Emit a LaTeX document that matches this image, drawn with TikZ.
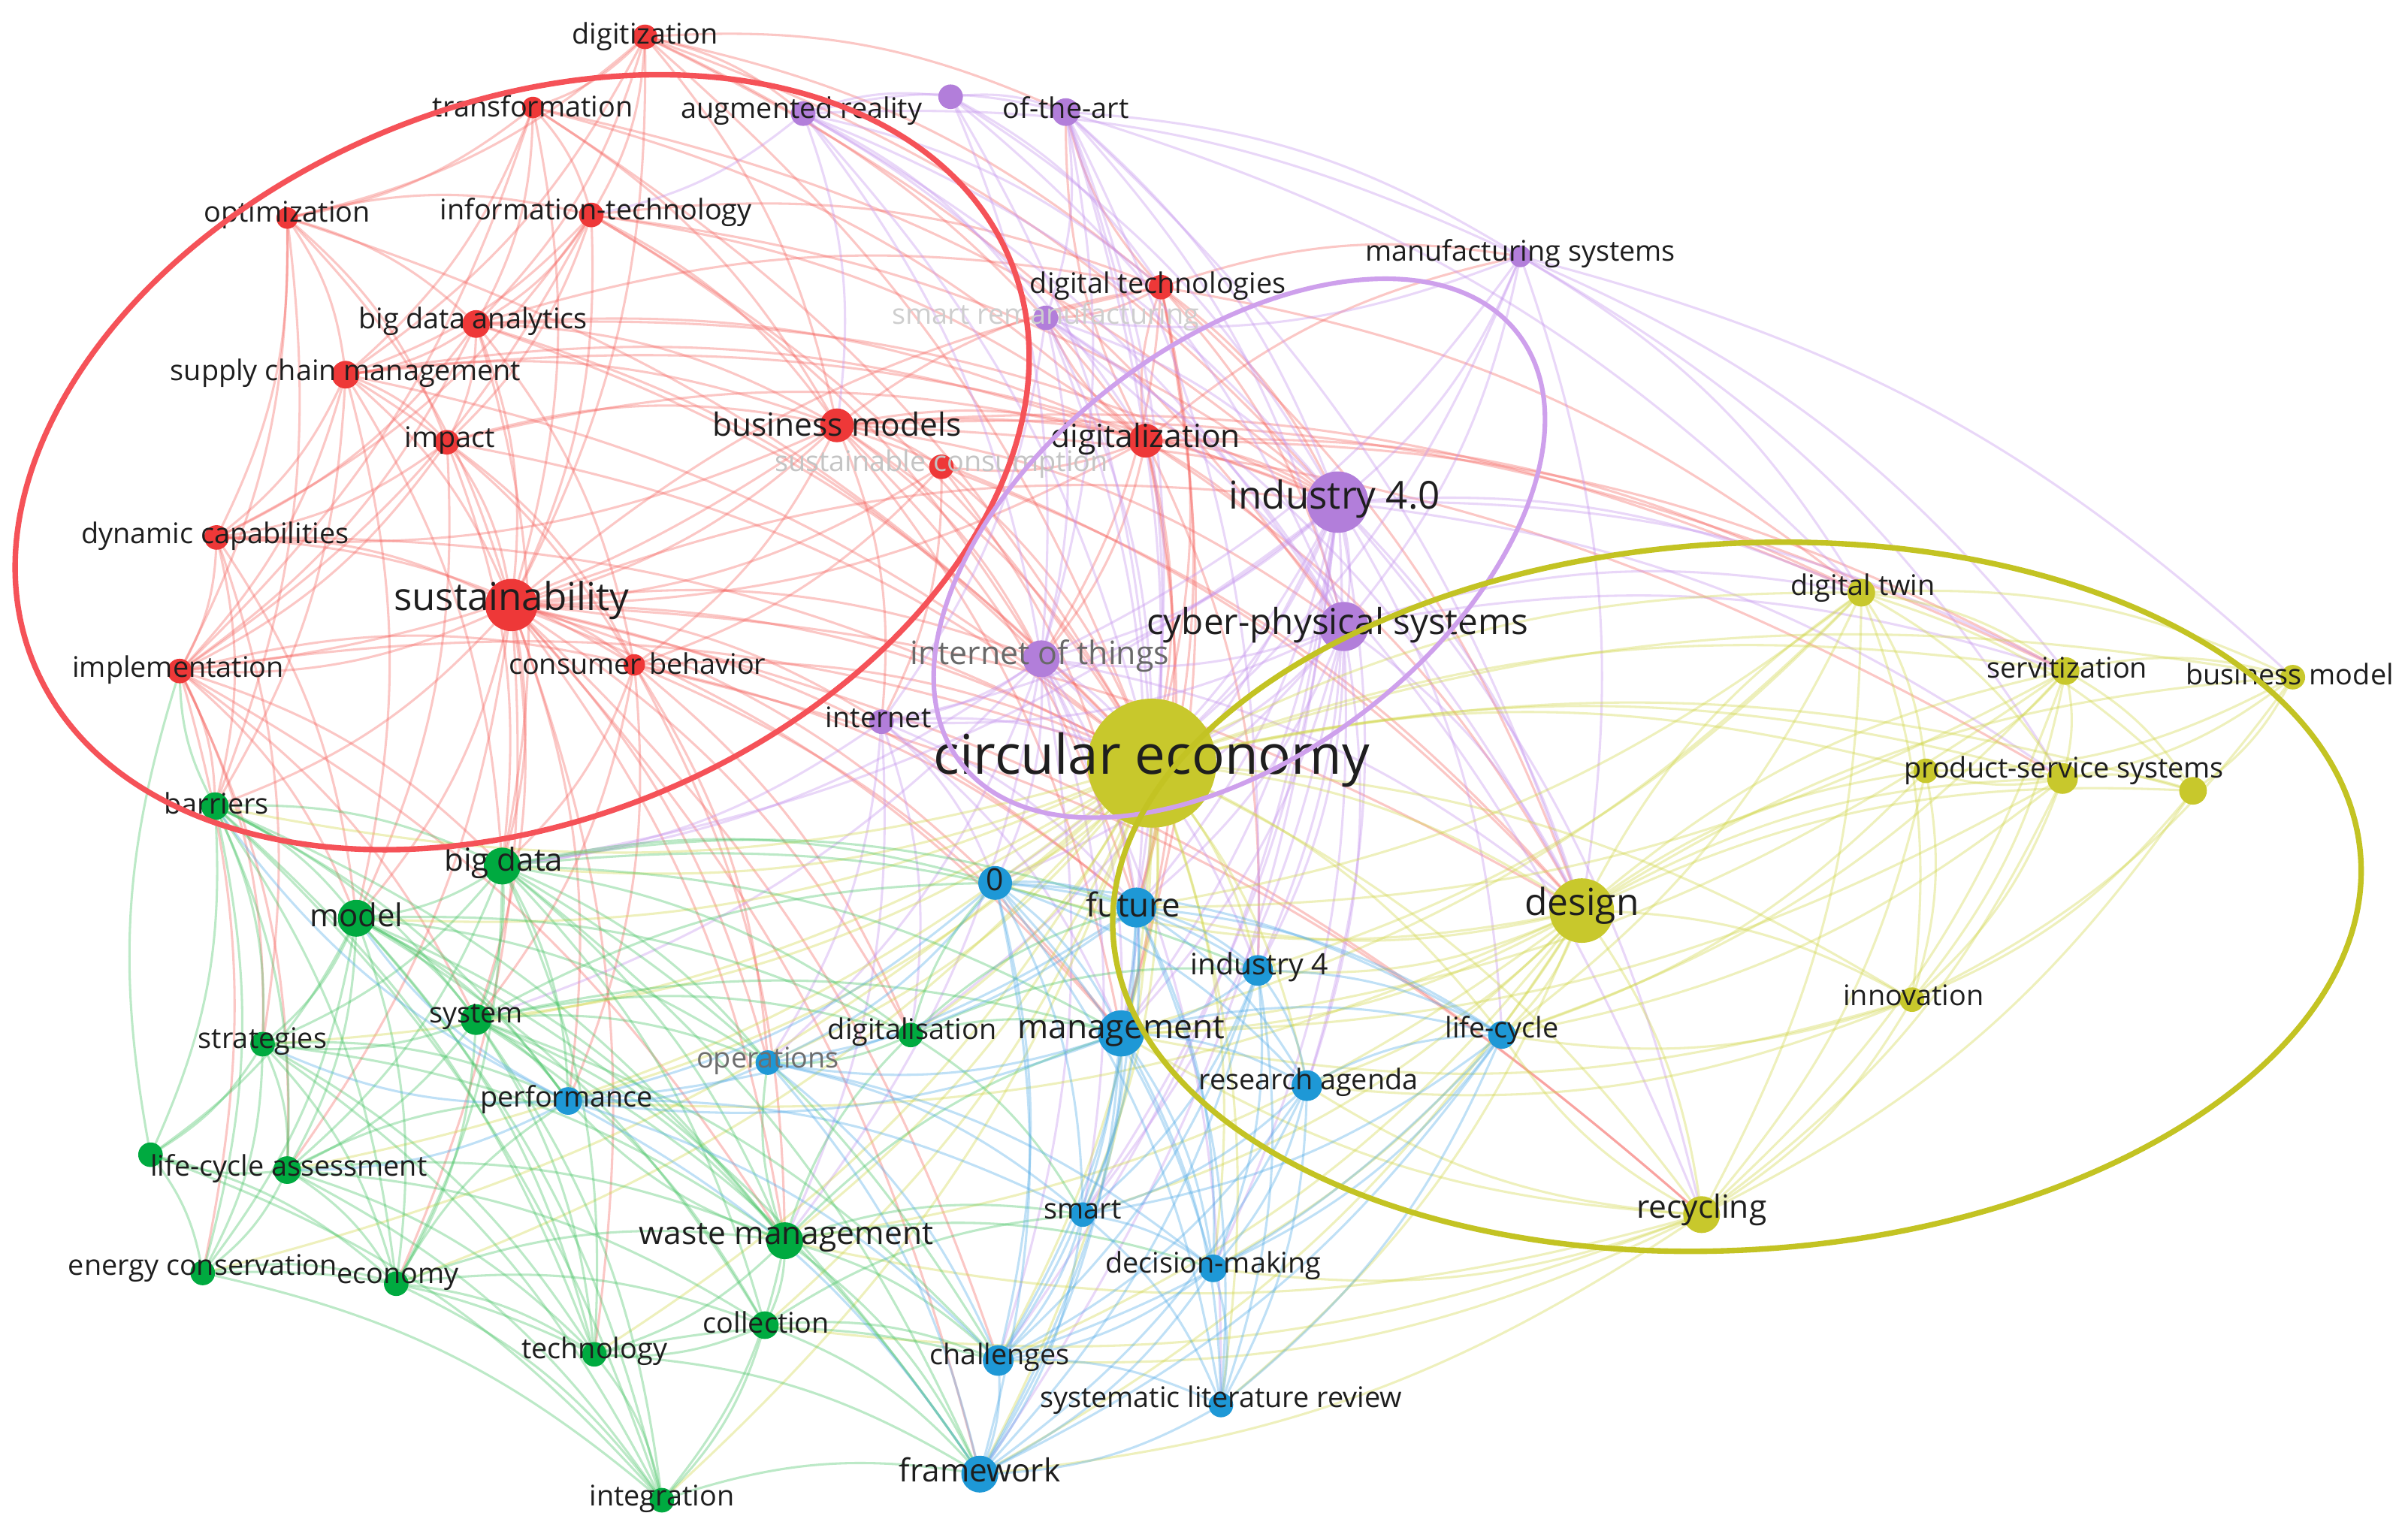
\documentclass[tikz,border=0pt]{standalone}
\usepackage{fontspec}
\setmainfont{Open Sans}
\pgfdeclarelayer{bg}
\pgfdeclarelayer{edges}
\pgfdeclarelayer{top}
\pgfsetlayers{bg,edges,main,top}
\definecolor{cR}{RGB}{238,56,56}
\definecolor{cG}{RGB}{0,170,64}
\definecolor{cB}{RGB}{30,152,214}
\definecolor{cY}{RGB}{200,200,44}
\definecolor{cP}{RGB}{178,126,218}
\definecolor{eR}{RGB}{246,100,96}
\definecolor{eG}{RGB}{70,196,100}
\definecolor{eB}{RGB}{80,170,232}
\definecolor{eY}{RGB}{208,214,70}
\definecolor{eP}{RGB}{196,146,238}
\definecolor{oR}{RGB}{245,82,88}
\definecolor{oP}{RGB}{206,160,236}
\definecolor{oY}{RGB}{195,195,35}
\definecolor{cT}{RGB}{30,30,30}
\newcommand\lfs[1]{\fontsize{#1}{#1}\selectfont}
\begin{document}
\begin{tikzpicture}[x=1pt,y=-1pt,
  dR/.style={circle,inner sep=0pt,fill=cR,minimum size=#1},
  dG/.style={circle,inner sep=0pt,fill=cG,minimum size=#1},
  dB/.style={circle,inner sep=0pt,fill=cB,minimum size=#1},
  dY/.style={circle,inner sep=0pt,fill=cY,minimum size=#1},
  dP/.style={circle,inner sep=0pt,fill=cP,minimum size=#1},
  lb/.style={inner sep=0pt,text=cT,font=\lfs{#1}},
  lb/.default=18.5,
  edge/.style={line width=1.5pt,draw opacity=0.36},
  edgeR/.style={edge,draw=eR},
  edgeG/.style={edge,draw=eG},
  edgeB/.style={edge,draw=eB},
  edgeY/.style={edge,draw=eY},
  edgeP/.style={edge,draw=eP},
  hull/.style={line width=3.6pt}
]
\begin{pgfonlayer}{bg}
\fill[white] (0,0) rectangle (1568,997);
\end{pgfonlayer}
\useasboundingbox (0,0) rectangle (1568,997);

% ---------- red cluster
\node[dR=16pt] (dgz) at (420,24) {};
\node[dR=14pt] (trf) at (347,70) {};
\node[dR=14pt] (opt) at (187,142) {};
\node[dR=16pt] (itc) at (385,140) {};
\node[dR=18pt] (bda) at (310,211) {};
\node[dR=18pt] (scm) at (225,244) {};
\node[dR=16pt] (imp) at (291,288) {};
\node[dR=22pt] (bm) at (545,277) {};
\node[dR=22pt] (dgl) at (746,287) {};
\node[dR=16pt] (scs) at (613,304) {};
\node[dR=16pt] (dc) at (141,350) {};
\node[dR=34pt] (sus) at (333,394) {};
\node[dR=16pt] (impl) at (117,437) {};
\node[dR=14pt] (cb) at (413,433) {};
\node[dR=16pt] (dt) at (756,187) {};
% ---------- purple cluster
\node[dP=16pt] (ar) at (523,74) {};
\node[dP=16pt] (pu) at (619,63) {};
\node[dP=18pt] (ota) at (694,73) {};
\node[dP=14pt] (ms) at (990,167) {};
\node[dP=16pt] (srm) at (681,207) {};
\node[dP=40pt] (i40) at (871,327) {};
\node[dP=32pt] (cps) at (875,408) {};
\node[dP=24pt] (iot) at (678,429) {};
\node[dP=16pt] (inet) at (574,470) {};
% ---------- yellow cluster
\node[dY=84pt] (ce) at (750,497) {};
\node[dY=18pt] (dtw) at (1212,386) {};
\node[dY=18pt] (serv) at (1345,437) {};
\node[dY=16pt] (bmo) at (1493,441) {};
\node[dY=20pt] (pss) at (1343,507) {};
\node[dY=18pt] (y2) at (1428,515) {};
\node[dY=16pt] (y3) at (1254,502) {};
\node[dY=42pt] (des) at (1030,593) {};
\node[dY=16pt] (inn) at (1245,651) {};
\node[dY=24pt] (rec) at (1108,791) {};
% ---------- green cluster
\node[dG=18pt] (bar) at (140,525) {};
\node[dG=24pt] (bd) at (327,564) {};
\node[dG=24pt] (mod) at (232,598) {};
\node[dG=20pt] (sys) at (310,664) {};
\node[dG=16pt] (str) at (171,680) {};
\node[dG=18pt] (lca) at (187,762) {};
\node[dG=16pt] (g2) at (98,752) {};
\node[dG=16pt] (ec) at (132,829) {};
\node[dG=16pt] (eco) at (258,836) {};
\node[dG=24pt] (wm) at (511,808) {};
\node[dG=18pt] (col) at (498,863) {};
\node[dG=16pt] (tec) at (387,882) {};
\node[dG=16pt] (int) at (431,977) {};
\node[dG=16pt] (dls) at (593,674) {};
% ---------- blue cluster
\node[dB=22pt] (zero) at (648,575) {};
\node[dB=26pt] (fut) at (740,591) {};
\node[dB=20pt] (i4) at (819,632) {};
\node[dB=30pt] (man) at (730,673) {};
\node[dB=16pt] (ops) at (500,692) {};
\node[dB=18pt] (perf) at (370,717) {};
\node[dB=20pt] (ra) at (851,707) {};
\node[dB=18pt] (lc) at (978,674) {};
\node[dB=16pt] (sm) at (705,791) {};
\node[dB=18pt] (dm) at (790,826) {};
\node[dB=20pt] (ch) at (650,886) {};
\node[dB=16pt] (slr) at (795,915) {};
\node[dB=24pt] (fw) at (638,960) {};

% ---------- labels
\node[lb] (dgz-l) at (420,24) {digitization};
\node[lb] (trf-l) at (347,69) {transformation};
\node[lb] (opt-l) at (187,140) {optimization};
\node[lb] (itc-l) at (388,138) {information-technology};
\node[lb] (bda-l) at (308,209) {big data analytics};
\node[lb] (scm-l) at (225,243) {supply chain management};
\node[lb] (imp-l) at (293,287) {impact};
\node[lb=20.8] (bm-l) at (545,276) {business models};
\node[lb=20.8] (dgl-l) at (746,286) {digitalization};
\node[lb,text={rgb,255:red,196;green,196;blue,196}] (scs-l) at (613,302) {sustainable consumption};
\node[lb] (dc-l) at (140,349) {dynamic capabilities};
\node[lb=25] (sus-l) at (333,391) {sustainability};
\node[lb] (impl-l) at (116,436) {implementation};
\node[lb] (cb-l) at (415,432) {consumer behavior};
\node[lb] (dt-l) at (754,186) {digital technologies};
\node[lb] (ar-l) at (522,72) {augmented reality};
\node[lb] (ota-l) at (694,70) {of-the-art};
\node[lb] (ms-l) at (990,165) {manufacturing systems};
\node[lb,text={rgb,255:red,206;green,206;blue,206}] (srm-l) at (681,206) {smart remanufacturing};
\node[lb=25] (i40-l) at (869,325) {industry 4.0};
\node[lb=23.3] (cps-l) at (871,407) {cyber-physical systems};
\node[lb=21,text={rgb,255:red,105;green,105;blue,105}] (iot-l) at (677,427) {internet of things};
\node[lb] (inet-l) at (572,467) {internet};
\node[lb=35.6] (ce-l) at (750,495) {circular economy};
\node[lb] (dtw-l) at (1213,383) {digital twin};
\node[lb] (serv-l) at (1346,435) {servitization};
\node[lb] (bmo-l) at (1491,439) {business model};
\node[lb] (pss-l) at (1344,502) {product-service systems};
\node[lb=24.3] (des-l) at (1030,590) {design};
\node[lb] (inn-l) at (1246,648) {innovation};
\node[lb=20.8] (rec-l) at (1108,788) {recycling};
\node[lb] (bar-l) at (141,523) {barriers};
\node[lb=20.6] (bd-l) at (328,562) {big data};
\node[lb=20.5] (mod-l) at (232,596) {model};
\node[lb] (sys-l) at (310,662) {system};
\node[lb] (str-l) at (171,678) {strategies};
\node[lb] (lca-l) at (188,761) {life-cycle assessment};
\node[lb] (ec-l) at (132,826) {energy conservation};
\node[lb] (eco-l) at (259,833) {economy};
\node[lb=20.8] (wm-l) at (512,806) {waste management};
\node[lb] (col-l) at (499,861) {collection};
\node[lb] (tec-l) at (387,880) {technology};
\node[lb] (int-l) at (431,976) {integration};
\node[lb] (dls-l) at (594,672) {digitalisation};
\node[lb=20] (zero-l) at (648,573) {0};
\node[lb=21.5] (fut-l) at (738,589) {future};
\node[lb=19.2] (i4-l) at (820,630) {industry 4};
\node[lb=21.7] (man-l) at (730,672) {management};
\node[lb,text={rgb,255:red,110;green,110;blue,110}] (ops-l) at (500,691) {operations};
\node[lb] (perf-l) at (369,716) {performance};
\node[lb] (ra-l) at (852,705) {research agenda};
\node[lb] (lc-l) at (978,671) {life-cycle};
\node[lb] (sm-l) at (705,788) {smart};
\node[lb] (dm-l) at (790,824) {decision-making};
\node[lb] (ch-l) at (651,884) {challenges};
\node[lb] (slr-l) at (795,912) {systematic literature review};
\node[lb=20.7] (fw-l) at (638,957) {framework};

% ---------- links
\begin{pgfonlayer}{edges}
\foreach \a/\b in {dgz/trf,dgz/itc,dgz/bda,dgz/scm,dgz/sus,dgz/dgl,dgz/bm,dgz/ar,dgz/ota,dgz/i40,dgz/ce,dgz/opt,dgz/dt,dgz/cps,
trf/itc,trf/opt,trf/bda,trf/scm,trf/sus,trf/dgl,trf/bm,trf/ce,trf/i40,trf/impl,
opt/scm,opt/bda,opt/itc,opt/dc,opt/impl,opt/sus,opt/ce,opt/imp,opt/bar,
itc/bda,itc/scm,itc/imp,itc/bm,itc/sus,itc/dgl,itc/ce,itc/dt,itc/i40,itc/iot,itc/impl,itc/dc,
bda/scm,bda/imp,bda/sus,bda/bm,bda/dgl,bda/ce,bda/i40,bda/dc,bda/impl,bda/bd,bda/iot,bda/cb,bda/dt,
scm/imp,scm/dc,scm/impl,scm/sus,scm/bm,scm/ce,scm/bar,scm/bd,scm/mod,scm/i40,scm/dgl,scm/cb,
imp/dc,imp/sus,imp/impl,imp/bm,imp/ce,imp/cb,imp/bd,imp/mod,imp/dgl,
bm/dgl,bm/scs,bm/sus,bm/ce,bm/dt,bm/i40,bm/cps,bm/iot,bm/inet,bm/des,bm/serv,bm/pss,bm/fut,bm/man,bm/cb,bm/dtw,bm/impl,bm/dc,
dgl/dt,dgl/scs,dgl/ce,dgl/i40,dgl/cps,dgl/iot,dgl/ota,dgl/ms,dgl/man,dgl/fut,dgl/i4,dgl/des,dgl/dtw,dgl/serv,dgl/srm,dgl/sus,
scs/ce,scs/cb,scs/sus,scs/inet,scs/des,scs/fut,
dc/impl,dc/sus,dc/bar,dc/mod,dc/ce,dc/cb,dc/str,
sus/impl,sus/cb,sus/ce,sus/bd,sus/mod,sus/bar,sus/man,sus/fut,sus/des,sus/i40,sus/iot,sus/wm,sus/sys,sus/lca,sus/perf,sus/fw,sus/ch,sus/dt,sus/zero,sus/ops,sus/dls,sus/eco,sus/tec,sus/rec,sus/inet,
impl/bar,impl/cb,impl/ce,impl/mod,impl/bd,impl/str,impl/lca,impl/ec,impl/sys,impl/wm,
cb/ce,cb/bd,cb/wm,cb/rec,cb/fut,cb/man,cb/ops,cb/dls,cb/perf,cb/sys,
dt/i40,dt/ce,dt/cps,dt/iot,dt/srm,dt/ota,dt/ms,dt/fut,dt/man,dt/des,dt/dtw}
  \draw[edgeR] (\a.center) to[bend left=14] (\b.center);
\foreach \a/\b in {ar/pu,ar/ota,ar/i40,ar/cps,ar/iot,ar/ce,ar/srm,ar/itc,ar/bm,ar/dgl,ar/dt,ar/ms,
pu/ota,pu/i40,pu/cps,pu/ce,pu/iot,pu/dt,
ota/i40,ota/cps,ota/iot,ota/ms,ota/ce,ota/srm,ota/des,ota/dtw,ota/fut,ota/man,ota/i4,
ms/i40,ms/cps,ms/ce,ms/dtw,ms/des,ms/srm,ms/iot,ms/serv,ms/pss,ms/bmo,
srm/i40,srm/cps,srm/iot,srm/ce,srm/inet,srm/des,srm/rec,srm/fut,
i40/cps,i40/iot,i40/ce,i40/dtw,i40/des,i40/man,i40/fut,i40/i4,i40/zero,i40/inet,i40/serv,i40/pss,i40/ra,i40/lc,i40/rec,i40/dls,i40/sm,i40/bd,i40/ch,i40/fw,
cps/iot,cps/ce,cps/dtw,cps/des,cps/man,cps/fut,cps/i4,cps/zero,cps/inet,cps/ra,cps/sm,cps/dm,cps/serv,
iot/ce,iot/inet,iot/zero,iot/fut,iot/man,iot/bd,iot/i4,iot/des,iot/sys,iot/ops,iot/wm,iot/sm,iot/ch,iot/slr,
inet/ce,inet/zero,inet/fut,inet/man,inet/bd,inet/ops,inet/dls,inet/wm}
  \draw[edgeP] (\a.center) to[bend left=14] (\b.center);
\foreach \a/\b in {ce/fut,ce/zero,ce/man,ce/i4,ce/ra,ce/lc,ce/des,ce/dtw,ce/serv,ce/bmo,ce/pss,ce/y2,ce/y3,ce/inn,ce/rec,ce/bd,ce/mod,ce/sys,ce/str,ce/lca,ce/wm,ce/col,ce/tec,ce/ops,ce/perf,ce/dls,ce/sm,ce/dm,ce/ch,ce/slr,ce/fw,ce/bar,ce/eco,ce/ec,ce/int,
des/dtw,des/serv,des/pss,des/y2,des/y3,des/inn,des/rec,des/lc,des/ra,des/man,des/fut,des/i4,des/zero,des/bmo,des/sm,des/dm,des/ch,des/fw,des/slr,des/perf,des/wm,
dtw/serv,dtw/pss,dtw/y2,dtw/y3,dtw/inn,dtw/rec,dtw/bmo,dtw/i4,dtw/man,dtw/lc,dtw/fut,
serv/pss,serv/y2,serv/y3,serv/bmo,serv/inn,serv/rec,serv/lc,serv/fut,serv/man,
bmo/pss,bmo/y2,bmo/inn,bmo/y3,
pss/y2,pss/y3,pss/inn,pss/rec,pss/lc,pss/man,
y2/inn,y2/rec,y3/inn,y3/rec,y3/lc,
inn/rec,inn/lc,inn/man,inn/ra,
rec/lc,rec/ra,rec/man,rec/wm,rec/col,rec/dm,rec/ch,rec/fw}
  \draw[edgeY] (\a.center) to[bend left=14] (\b.center);
\foreach \a/\b in {bar/bd,bar/mod,bar/str,bar/lca,bar/sys,bar/impl,bar/g2,bar/ec,bar/eco,bar/wm,bar/perf,bar/tec,bar/int,
bd/mod,bd/sys,bd/str,bd/lca,bd/wm,bd/perf,bd/ops,bd/dls,bd/zero,bd/man,bd/fut,bd/col,bd/tec,bd/eco,bd/fw,bd/ch,bd/i4,
mod/sys,mod/str,mod/lca,mod/g2,mod/eco,mod/ec,mod/wm,mod/perf,mod/tec,mod/col,mod/int,mod/ops,mod/dls,mod/fw,
sys/str,sys/lca,sys/wm,sys/perf,sys/ops,sys/dls,sys/eco,sys/tec,sys/col,sys/int,sys/man,sys/fw,sys/ch,sys/zero,
str/lca,str/g2,str/ec,str/eco,str/wm,str/perf,str/tec,str/int,
lca/g2,lca/ec,lca/eco,lca/wm,lca/perf,lca/tec,lca/col,lca/int,
g2/ec,g2/eco,g2/int,g2/impl,
ec/eco,ec/int,ec/tec,
eco/wm,eco/tec,eco/col,eco/int,eco/perf,
wm/col,wm/tec,wm/int,wm/dls,wm/ops,wm/perf,wm/man,wm/sm,wm/ch,wm/fw,wm/dm,
col/tec,col/int,col/ch,col/fw,col/sm,
tec/int,tec/fw,tec/ch,
dls/ops,dls/man,dls/fut,dls/zero,dls/sm,dls/i4,
int/fw}
  \draw[edgeG] (\a.center) to[bend left=14] (\b.center);
\foreach \a/\b in {zero/fut,zero/man,zero/i4,zero/ops,zero/perf,zero/ra,zero/sm,zero/dm,zero/ch,zero/fw,zero/slr,zero/lc,
fut/man,fut/i4,fut/ra,fut/lc,fut/sm,fut/dm,fut/ch,fut/slr,fut/fw,fut/ops,fut/perf,
i4/man,i4/ra,i4/lc,i4/sm,i4/dm,i4/ch,i4/slr,i4/fw,
man/ra,man/lc,man/ops,man/perf,man/sm,man/dm,man/ch,man/slr,man/fw,
ops/perf,ops/sm,ops/ch,ops/fw,ops/dm,
perf/sm,perf/ch,perf/fw,perf/lca,perf/mod,perf/bar,perf/str,
ra/lc,ra/sm,ra/dm,ra/ch,ra/slr,ra/fw,
lc/sm,lc/dm,lc/ch,lc/slr,lc/fw,
sm/dm,sm/ch,sm/slr,sm/fw,
dm/ch,dm/slr,dm/fw,
ch/slr,ch/fw,slr/fw}
  \draw[edgeB] (\a.center) to[bend left=14] (\b.center);
\end{pgfonlayer}

% ---------- cluster outlines
\begin{pgfonlayer}{top}
\draw[hull,draw=oR,rotate around={22.5:(340,301)}] (340,301) ellipse [x radius=344pt,y radius=233pt];
\draw[hull,draw=oP,line width=3pt,rotate around={37.6:(807,357)}] (807,357) ellipse [x radius=229pt,y radius=134pt];
\draw[hull,draw=oY,rotate around={3.5:(1131,584)}] (1131,584) ellipse [x radius=407pt,y radius=230pt];
\end{pgfonlayer}
\end{tikzpicture}
\end{document}
